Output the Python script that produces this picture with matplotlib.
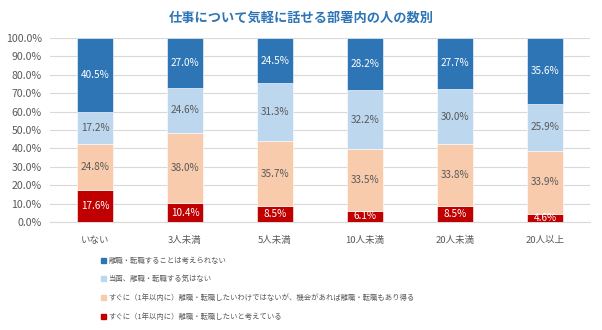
import matplotlib
matplotlib.use("Agg")
import matplotlib.pyplot as plt
import numpy as np

plt.rcParams['font.family'] = ['Noto Sans CJK JP', 'DejaVu Sans']

categories = ["いない", "3人未満", "5人未満", "10人未満", "20人未満", "20人以上"]
series_names = [
    "離職・転職することは考えられない",
    "当面、離職・転職する気はない",
    "すぐに（1年以内に）離職・転職したいわけではないが、機会があれば離職・転職もあり得る",
    "すぐに（1年以内に）離職・転職したいと考えている",
]
unthinkable = [40.5, 27.0, 24.5, 28.2, 27.7, 35.6]
not_for_now = [17.2, 24.6, 31.3, 32.2, 30.0, 25.9]
if_chance = [24.8, 38.0, 35.7, 33.5, 33.8, 33.9]
soon = [17.6, 10.4, 8.5, 6.1, 8.5, 4.6]

colors = ["#2E75B6", "#BDD7EE", "#F8CBAD", "#C00000"]
label_colors = ["white", "#595959", "#595959", "white"]

fig = plt.figure(figsize=(6.02, 3.30), dpi=100)
ax = fig.add_axes([0.083, 0.327, 0.897, 0.558])

x = np.arange(len(categories))
# stack from the bottom: soon, if_chance, not_for_now, unthinkable
stack = [soon, if_chance, not_for_now, unthinkable]
stack_colors = colors[::-1]
stack_label_colors = label_colors[::-1]
bottom = np.zeros(len(categories))
for vals, c, lc in zip(stack, stack_colors, stack_label_colors):
    vals = np.array(vals)
    ax.bar(x, vals, 0.4, bottom=bottom, color=c, edgecolor="white",
           linewidth=0.4, zorder=3)
    for xi, v, bt in zip(x, vals, bottom):
        ax.text(xi, bt + v / 2, f"{v:.1f}%", ha="center", va="center",
                fontsize=7.2, color=lc, zorder=4)
    bottom = bottom + vals

ax.set_xlim(-0.5, len(categories) - 0.5)
ax.set_ylim(0, 100)
ax.set_yticks(np.arange(0, 101, 10))
ax.set_yticklabels([f"{t:.1f}%" for t in np.arange(0, 101, 10)])
ax.set_xticks(x)
ax.set_xticklabels(categories)
ax.tick_params(axis="both", length=0, colors="#595959")
ax.tick_params(axis="y", labelsize=7.6, pad=6)
ax.tick_params(axis="x", labelsize=6.8, pad=10)
ax.grid(axis="y", color="#D9D9D9", linewidth=0.8, zorder=0)
for s in ["top", "right", "left"]:
    ax.spines[s].set_visible(False)
ax.spines["bottom"].set_color("#D9D9D9")

fig.text(0.5, 0.945, "仕事について気軽に話せる部署内の人の数別", ha="center",
         va="center", fontsize=9.5, fontweight="bold", color="#2E75B6")

handles = [plt.Rectangle((0, 0), 1, 1, color=c) for c in colors]
fig.legend(handles, series_names, loc="upper left",
           bbox_to_anchor=(0.168, 0.222), frameon=False, fontsize=5.3,
           handlelength=0.65, handleheight=0.65, handletextpad=0.35,
           labelspacing=1.45, labelcolor="#595959", borderaxespad=0,
           borderpad=0)

fig.savefig("out.png", dpi=100)
